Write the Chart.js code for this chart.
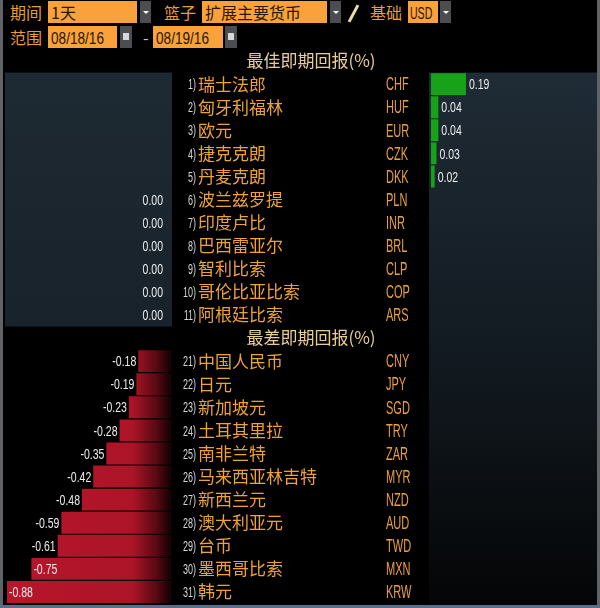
<!DOCTYPE html>
<html lang="zh">
<head>
<meta charset="UTF-8">
<title>最佳/最差即期回报 (%)</title>
<script src="https://cdn.jsdelivr.net/npm/chart.js"></script>
<style>
    body { margin: 0; background: #000; }
    #wrap { position: relative; width: 600px; height: 608px; overflow: hidden; background: #000;
            font-family: "Noto Sans CJK SC", sans-serif; }
    .lbl { position: absolute; color: #e99c3a; font-size: 16px; line-height: 22px; }
    .box { position: absolute; background: #f9a23b; color: #2b1600; font-size: 16px; line-height: 22px;
           height: 22px; padding-left: 3px; box-sizing: border-box; white-space: nowrap; overflow: hidden; }
    .sq { display: inline-block; font-family: "Liberation Sans", sans-serif; transform-origin: left center; }
    .dd { position: absolute; background: #4b4d50; width: 11px; height: 22px; }
    .dd:after { content: ''; position: absolute; left: 3px; top: 10px; border-left: 3px solid transparent;
                border-right: 3px solid transparent; border-top: 3px solid #fff; }
    .cal { position: absolute; background: #4b4d50; width: 12px; height: 22px; }
    .cal:after { content: ''; position: absolute; left: 3px; top: 7px; width: 6px; height: 7px; background: #d8d8d8; }
    .edge { position: absolute; background: #5f6366; }
</style>
</head>
<body>
<div id="wrap">
    <!-- header -->
    <div class="lbl" style="left:10px;top:1px;">期间</div>
    <div class="box" style="left:48px;top:1px;width:89px;">1天</div>
    <div class="dd" style="left:140px;top:1px;"></div>
    <div class="lbl" style="left:164px;top:1px;">篮子</div>
    <div class="box" style="left:202px;top:1px;width:125px;">扩展主要货币</div>
    <div class="dd" style="left:330px;top:1px;"></div>
    <div style="position:absolute;left:352px;top:4px;width:3px;height:19px;background:#ecd9a8;transform:rotate(28deg);"></div>
    <div class="lbl" style="left:370px;top:1px;">基础</div>
    <div class="box" style="left:408px;top:1px;width:30px;padding-left:2px;"><span class="sq" style="font-size:17px;transform:scaleX(0.62);">USD</span></div>
    <div class="dd" style="left:440px;top:1px;"></div>

    <div class="lbl" style="left:10px;top:26px;">范围</div>
    <div class="box" style="left:48px;top:26px;width:69px;"><span class="sq" style="transform:scaleX(0.85);">08/18/16</span></div>
    <div class="cal" style="left:120px;top:26px;"></div>
    <div class="lbl" style="left:143px;top:26px;color:#c9c9c9;">-</div>
    <div class="box" style="left:153px;top:26px;width:70px;"><span class="sq" style="transform:scaleX(0.85);">08/19/16</span></div>
    <div class="cal" style="left:225px;top:26px;"></div>

    <!-- charts -->
    <canvas id="worstChart" width="172" height="568" style="position:absolute;left:0;top:40px;"></canvas>
    <canvas id="bestChart" width="428" height="568" style="position:absolute;left:172px;top:40px;"></canvas>

    <!-- frame edges -->
    <div class="edge" style="left:0;top:0;width:3px;height:608px;"></div>
    <div class="edge" style="right:0;top:0;width:3px;height:608px;"></div>
    <div class="edge" style="left:0;bottom:0;width:600px;height:3px;background:#5a6d8c;"></div>
</div>

<script>
    // data
    var sectionTitles = ['最佳即期回报(%)', '最差即期回报(%)'];
    var bestRanks = ['1)', '2)', '3)', '4)', '5)', '6)', '7)', '8)', '9)', '10)', '11)'];
    var bestNames = ['瑞士法郎', '匈牙利福林', '欧元', '捷克克朗', '丹麦克朗', '波兰兹罗提', '印度卢比', '巴西雷亚尔', '智利比索', '哥伦比亚比索', '阿根廷比索'];
    var bestCodes = ['CHF', 'HUF', 'EUR', 'CZK', 'DKK', 'PLN', 'INR', 'BRL', 'CLP', 'COP', 'ARS'];
    var bestVals = [0.19, 0.04, 0.04, 0.03, 0.02, 0.00, 0.00, 0.00, 0.00, 0.00, 0.00];
    var worstRanks = ['21)', '22)', '23)', '24)', '25)', '26)', '27)', '28)', '29)', '30)', '31)'];
    var worstNames = ['中国人民币', '日元', '新加坡元', '土耳其里拉', '南非兰特', '马来西亚林吉特', '新西兰元', '澳大利亚元', '台币', '墨西哥比索', '韩元'];
    var worstCodes = ['CNY', 'JPY', 'SGD', 'TRY', 'ZAR', 'MYR', 'NZD', 'AUD', 'TWD', 'MXN', 'KRW'];
    var worstVals = [-0.18, -0.19, -0.23, -0.28, -0.35, -0.42, -0.48, -0.59, -0.61, -0.75, -0.88];

    // one row per line of the table: section title, 11 best, section title, 11 worst
    var rowTitle = [sectionTitles[0]].concat(bestNames.map(function () { return null; }),
                                             [sectionTitles[1]], worstNames.map(function () { return null; }));
    var rowRank = [''].concat(bestRanks, [''], worstRanks);
    var rowName = [''].concat(bestNames, [''], worstNames);
    var rowCode = [''].concat(bestCodes, [''], worstCodes);
    var rowVal = [null].concat(bestVals, [null], worstVals);

    var negVals = rowVal.map(function (v) { return v !== null && v <= 0 ? v : null; });
    var posVals = rowVal.map(function (v) { return v !== null && v > 0 ? v : null; });
    var range = Math.abs(Math.min.apply(null, worstVals));

    var NUM_FONT = '15px "Liberation Sans", sans-serif';
    var NUM_SX = 0.7;

    function narrowText(ctx, text, x, y, align, sx) {
        ctx.save();
        ctx.translate(x, y);
        ctx.scale(sx, 1);
        ctx.textAlign = align;
        ctx.fillText(text, 0, 0);
        ctx.restore();
    }

    function rowStep(chart) {
        var y = chart.scales.y;
        return y.getPixelForValue(1) - y.getPixelForValue(0);
    }

    // left panel: slate box behind the best rows, value labels
    var worstPanel = {
        id: 'worstPanel',
        beforeDatasetsDraw: function (chart) {
            var ctx = chart.ctx, a = chart.chartArea, y = chart.scales.y, h = rowStep(chart);
            var top = y.getPixelForValue(1) - h / 2, bottom = y.getPixelForValue(bestVals.length) + h / 2;
            var g = ctx.createLinearGradient(0, top, 0, bottom);
            g.addColorStop(0, '#1e2a33');
            g.addColorStop(1, '#18222a');
            ctx.save();
            ctx.fillStyle = g;
            ctx.fillRect(a.left - 2, top, a.right - a.left + 2, bottom - top);
            ctx.restore();
        },
        afterDatasetsDraw: function (chart) {
            var ctx = chart.ctx, a = chart.chartArea;
            var meta = chart.getDatasetMeta(0);
            ctx.save();
            ctx.font = NUM_FONT;
            ctx.textBaseline = 'middle';
            ctx.fillStyle = '#ececec';
            meta.data.forEach(function (bar, i) {
                var v = negVals[i];
                if (v === null) return;
                var txt = v.toFixed(2);
                var w = ctx.measureText(txt).width * NUM_SX;
                var gap = v === 0 ? 9 : 2;
                // long bars carry their label inside
                if (bar.x - gap - w < a.left + 12) {
                    narrowText(ctx, txt, bar.x + 2, bar.y + 1, 'left', NUM_SX);
                } else {
                    narrowText(ctx, txt, bar.x - gap, bar.y + 1, 'right', NUM_SX);
                }
            });
            ctx.restore();
        }
    };

    // right chart: row labels in the padding, dark panel, value labels
    var bestPanel = {
        id: 'bestPanel',
        beforeDatasetsDraw: function (chart) {
            var ctx = chart.ctx, a = chart.chartArea, y = chart.scales.y, h = rowStep(chart);
            var top = y.getPixelForValue(1) - h / 2;
            var g = ctx.createLinearGradient(0, top, 0, chart.height);
            g.addColorStop(0, '#1f2b35');
            g.addColorStop(0.5, '#131b22');
            g.addColorStop(1, '#040506');
            ctx.save();
            ctx.fillStyle = g;
            ctx.fillRect(a.left - 2, top, chart.width - a.left - 1, chart.height - top);
            ctx.restore();
        },
        afterDatasetsDraw: function (chart) {
            var ctx = chart.ctx, y = chart.scales.y;
            var meta = chart.getDatasetMeta(0);
            ctx.save();
            ctx.textBaseline = 'middle';
            rowRank.forEach(function (r, i) {
                var py = y.getPixelForValue(i);
                if (rowTitle[i]) {
                    ctx.font = '17px "Noto Sans CJK SC", sans-serif';
                    ctx.fillStyle = '#e8cc96';
                    ctx.textAlign = 'center';
                    ctx.fillText(rowTitle[i], 139, py);
                    return;
                }
                ctx.font = '15px "Liberation Sans", sans-serif';
                ctx.fillStyle = '#d6d6d6';
                narrowText(ctx, r, 24, py + 1, 'right', 0.6);
                ctx.font = '17px "Noto Sans CJK SC", sans-serif';
                ctx.fillStyle = '#eea23a';
                ctx.textAlign = 'left';
                ctx.fillText(rowName[i], 26, py);
                ctx.font = '19px "Liberation Sans", sans-serif';
                ctx.fillStyle = '#eaa03c';
                narrowText(ctx, rowCode[i], 214, py + 1, 'left', 0.58);
            });
            ctx.font = NUM_FONT;
            ctx.fillStyle = '#ececec';
            meta.data.forEach(function (bar, i) {
                var v = posVals[i];
                if (v === null) return;
                narrowText(ctx, v.toFixed(2), bar.x + 3, bar.y + 1, 'left', NUM_SX);
            });
            ctx.restore();
        }
    };

    function redFill(context) {
        var a = context.chart.chartArea;
        if (!a) return '#ad1426';
        var g = context.chart.ctx.createLinearGradient(a.left, 0, a.right, 0);
        g.addColorStop(0, '#b8162b');
        g.addColorStop(0.76, '#ac1427');
        g.addColorStop(0.9, '#5c0a14');
        g.addColorStop(1, '#0d0102');
        return g;
    }

    var baseOptions = function (padding, xMin, xMax) {
        return {
            indexAxis: 'y',
            responsive: false,
            animation: false,
            layout: { padding: padding },
            scales: {
                x: { display: false, min: xMin, max: xMax },
                y: { display: false }
            },
            plugins: {
                legend: { display: false },
                tooltip: { enabled: false }
            }
        };
    };

    var worstChart = new Chart(document.getElementById('worstChart').getContext('2d'), {
        type: 'bar',
        data: {
            labels: rowCode,
            datasets: [{
                data: negVals,
                backgroundColor: redFill,
                borderWidth: 0,
                barPercentage: 0.95,
                categoryPercentage: 1.0
            }]
        },
        options: baseOptions({ left: 7, right: 0, top: 9.5, bottom: 4.5 }, -range, 0),
        plugins: [worstPanel]
    });

    var bestChart = new Chart(document.getElementById('bestChart').getContext('2d'), {
        type: 'bar',
        data: {
            labels: rowCode,
            datasets: [{
                data: posVals,
                backgroundColor: '#17a317',
                borderWidth: 0,
                barPercentage: 0.95,
                categoryPercentage: 1.0
            }]
        },
        options: baseOptions({ left: 259, right: 7, top: 9.5, bottom: 4.5 }, 0, range),
        plugins: [bestPanel]
    });
</script>
</body>
</html>
